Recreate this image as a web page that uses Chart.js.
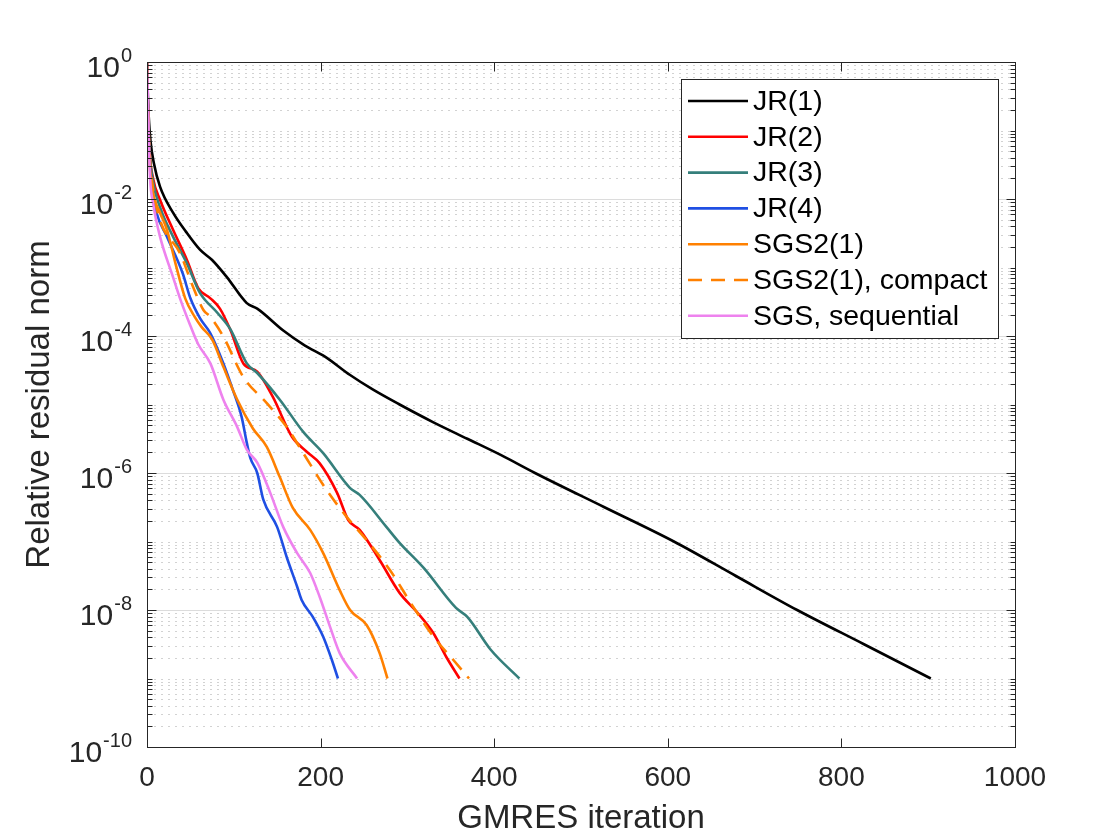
<!DOCTYPE html>
<html>
<head>
<meta charset="utf-8">
<script src="https://cdn.jsdelivr.net/npm/chart.js@4.4.1/dist/chart.umd.min.js"></script>
<style>
    body { margin: 0; background: #ffffff; }
    canvas { display: block; }
</style>
</head>
<body>
<canvas id="residualChart" width="1120" height="840"></canvas>
<script>
// iterations and log10(relative residual)
const jr1Iter = [0, 1, 2, 4, 8, 15, 30, 45, 61, 75, 92, 115, 127, 157, 182, 205, 234, 260, 291, 330, 369, 408, 447, 527, 607, 678, 749, 826, 903];
const jr1Log = [0, -0.5, -0.8, -1.15, -1.48, -1.82, -2.2, -2.48, -2.74, -2.89, -3.14, -3.52, -3.6, -3.92, -4.14, -4.3, -4.57, -4.78, -5.0, -5.26, -5.5, -5.74, -6.0, -6.5, -7.0, -7.5, -8.0, -8.5, -9.0];

const jr2Iter = [0, 1, 3, 7, 15, 30, 46, 59, 73, 84, 96, 111, 127, 145, 167, 184, 199, 219, 232, 245, 268, 291, 311, 330, 345, 360];
const jr2Log = [0, -0.6, -1.3, -1.7, -2.01, -2.45, -2.89, -3.3, -3.45, -3.6, -3.91, -4.4, -4.52, -4.89, -5.47, -5.69, -5.86, -6.29, -6.69, -6.83, -7.27, -7.75, -8.03, -8.34, -8.69, -9.0];

const jr3Iter = [0, 1, 3, 7, 15, 30, 46, 61, 81, 96, 115, 127, 153, 180, 203, 234, 245, 276, 291, 319, 356, 369, 396, 429];
const jr3Log = [0, -0.6, -1.3, -1.75, -2.12, -2.55, -2.94, -3.37, -3.66, -3.9, -4.4, -4.54, -4.93, -5.4, -5.71, -6.22, -6.32, -6.79, -7.02, -7.39, -7.97, -8.1, -8.58, -9.0];

const jr4Iter = [0, 1, 3, 6, 11, 23, 41, 50, 61, 73, 88, 99, 109, 115, 119, 127, 134, 150, 161, 173, 178, 191, 203, 213, 220];
const jr4Log = [0, -0.7, -1.4, -1.85, -2.2, -2.55, -3.08, -3.45, -3.74, -3.96, -4.4, -4.79, -5.18, -5.56, -5.78, -6.0, -6.39, -6.79, -7.23, -7.66, -7.85, -8.1, -8.39, -8.73, -9.0];

const sgs2Iter = [0, 1, 3, 7, 15, 23, 33, 44, 55, 63, 75, 88, 104, 122, 138, 153, 168, 188, 203, 222, 234, 253, 268, 277];
const sgs2Log = [0, -0.7, -1.45, -1.91, -2.2, -2.45, -2.95, -3.45, -3.72, -3.87, -4.05, -4.45, -4.93, -5.35, -5.62, -6.06, -6.51, -6.83, -7.17, -7.71, -8.0, -8.22, -8.63, -9.0];

const compactIter = [0, 1, 3, 7, 15, 38, 53, 65, 73, 88, 111, 138, 161, 180, 207, 230, 253, 280, 307, 330, 353, 371];
const compactLog = [0, -0.65, -1.35, -1.85, -2.31, -2.79, -3.28, -3.62, -3.72, -4.01, -4.6, -4.98, -5.33, -5.71, -6.25, -6.64, -6.98, -7.42, -7.96, -8.39, -8.73, -9.0];

const seqIter = [0, 1, 2, 3.5, 7, 15, 30, 38, 50, 59, 73, 88, 104, 115, 127, 142, 157, 173, 188, 199, 211, 222, 242];
const seqLog = [0, -0.5, -1.1, -1.68, -2.06, -2.55, -3.14, -3.45, -3.85, -4.12, -4.4, -4.93, -5.33, -5.66, -5.85, -6.29, -6.79, -7.17, -7.46, -7.81, -8.25, -8.63, -9.0];

const seriesNames = ["JR(1)", "JR(2)", "JR(3)", "JR(4)", "SGS2(1)", "SGS2(1), compact", "SGS, sequential"];
const seriesColors = ["#000000", "#ff0000", "#357f7b", "#1f4fe3", "#ff8000", "#ff8000", "#ee82ee"];
const seriesDash = [[], [], [], [], [], [14, 9], []];

const xTicks = [0, 200, 400, 600, 800, 1000];
const yExponents = [0, -2, -4, -6, -8, -10];

const FONT = "'Liberation Sans', Arial, Helvetica, sans-serif";
const INK = "#262626";

function toPoints(iters, logs) {
    return iters.map((it, i) => ({ x: it, y: Math.pow(10, logs[i]) }));
}

const allIters = [jr1Iter, jr2Iter, jr3Iter, jr4Iter, sgs2Iter, compactIter, seqIter];
const allLogs = [jr1Log, jr2Log, jr3Log, jr4Log, sgs2Log, compactLog, seqLog];

const datasets = seriesNames.map((name, i) => ({
    label: name,
    data: toPoints(allIters[i], allLogs[i]),
    borderColor: seriesColors[i],
    borderWidth: 2.6,
    borderDash: seriesDash[i],
    pointRadius: 0,
    fill: false,
    cubicInterpolationMode: "monotone",
    borderJoinStyle: "round",
    order: -i
}));

// grid, box, inward ticks, log labels and legend, matlab style
const matlabFrame = {
    id: "matlabFrame",
    beforeDatasetsDraw(chart) {
        const ctx = chart.ctx;
        const a = chart.chartArea;
        const y = chart.scales.y;
        ctx.save();
        ctx.lineWidth = 1;

        ctx.strokeStyle = "#d2d2d2";
        ctx.setLineDash([2, 5]);
        for (let k = -10; k < 0; k++) {
            for (let m = 1; m < 10; m++) {
                if (m === 1 && k % 2 === 0) continue;
                const py = Math.round(y.getPixelForValue(m * Math.pow(10, k))) + 0.5;
                ctx.beginPath();
                ctx.moveTo(a.left, py);
                ctx.lineTo(a.right, py);
                ctx.stroke();
            }
        }

        ctx.setLineDash([]);
        ctx.strokeStyle = "#dcdcdc";
        yExponents.forEach(e => {
            if (e === 0 || e === -10) return;
            const py = Math.round(y.getPixelForValue(Math.pow(10, e))) + 0.5;
            ctx.beginPath();
            ctx.moveTo(a.left, py);
            ctx.lineTo(a.right, py);
            ctx.stroke();
        });
        ctx.restore();
    },
    afterDatasetsDraw(chart) {
        const ctx = chart.ctx;
        const a = chart.chartArea;
        const x = chart.scales.x;
        const y = chart.scales.y;
        ctx.save();
        ctx.strokeStyle = INK;
        ctx.lineWidth = 1;
        ctx.setLineDash([]);

        const L = Math.round(a.left) + 0.5;
        const R = Math.round(a.right) + 0.5;
        const T = Math.round(a.top) + 0.5;
        const B = Math.round(a.bottom) + 0.5;
        ctx.strokeRect(L, T, R - L, B - T);

        ctx.beginPath();
        xTicks.forEach(v => {
            const px = Math.round(x.getPixelForValue(v)) + 0.5;
            ctx.moveTo(px, B); ctx.lineTo(px, B - 9);
            ctx.moveTo(px, T); ctx.lineTo(px, T + 9);
        });
        for (let k = -10; k <= 0; k++) {
            for (let m = 1; m < 10; m++) {
                if (k === 0 && m > 1) break;
                const py = Math.round(y.getPixelForValue(m * Math.pow(10, k))) + 0.5;
                const len = (m === 1 && k % 2 === 0) ? 9 : 5;
                ctx.moveTo(L, py); ctx.lineTo(L + len, py);
                ctx.moveTo(R, py); ctx.lineTo(R - len, py);
            }
        }
        ctx.stroke();

        // 10^k labels
        ctx.fillStyle = INK;
        ctx.textAlign = "right";
        ctx.textBaseline = "middle";
        yExponents.forEach(e => {
            const py = y.getPixelForValue(Math.pow(10, e));
            const sup = String(e);
            ctx.font = "20px " + FONT;
            const supW = ctx.measureText(sup).width;
            ctx.fillText(sup, 132, py - 6);
            ctx.font = "30px " + FONT;
            ctx.fillText("10", 132 - supW - 1, py + 7);
        });

        // legend
        const lx = 681.5, ly = 79.5, lw = 317, lh = 259;
        ctx.fillStyle = "#ffffff";
        ctx.fillRect(lx, ly, lw, lh);
        ctx.strokeStyle = INK;
        ctx.strokeRect(lx, ly, lw, lh);
        ctx.font = "28.5px " + FONT;
        ctx.textAlign = "left";
        ctx.textBaseline = "middle";
        seriesNames.forEach((name, i) => {
            const cy = 101 + i * 35.8;
            ctx.strokeStyle = seriesColors[i];
            ctx.lineWidth = 2.6;
            ctx.setLineDash(seriesDash[i]);
            ctx.beginPath();
            ctx.moveTo(688, cy);
            ctx.lineTo(748, cy);
            ctx.stroke();
            ctx.setLineDash([]);
            ctx.fillStyle = "#000000";
            ctx.fillText(name, 753, cy + 1);
        });
        ctx.restore();
    }
};

new Chart(document.getElementById("residualChart"), {
    type: "line",
    data: { datasets: datasets },
    options: {
        responsive: false,
        animation: false,
        devicePixelRatio: 1,
        layout: { padding: { left: 0, right: 105, top: 62, bottom: 0 } },
        plugins: {
            legend: { display: false },
            tooltip: { enabled: false }
        },
        scales: {
            x: {
                type: "linear",
                min: 0,
                max: 1000,
                afterBuildTicks: scale => {
                    scale.ticks = xTicks.map(v => ({ value: v }));
                },
                afterFit: scale => { scale.height = 93; },
                grid: { display: false, drawTicks: false },
                border: { display: false },
                ticks: {
                    color: INK,
                    font: { family: FONT, size: 28 },
                    padding: 14,
                    maxRotation: 0,
                    callback: v => String(v)
                },
                title: {
                    display: true,
                    text: "GMRES iteration",
                    color: INK,
                    font: { family: FONT, size: 33 },
                    padding: { top: 0, bottom: 1 }
                }
            },
            y: {
                type: "logarithmic",
                min: 1e-10,
                max: 1,
                afterFit: scale => { scale.width = 147; },
                grid: { display: false, drawTicks: false },
                border: { display: false },
                ticks: { display: false },
                title: {
                    display: true,
                    text: "Relative residual norm",
                    color: INK,
                    font: { family: FONT, size: 33 },
                    padding: { top: 20, bottom: 0 }
                }
            }
        }
    },
    plugins: [matlabFrame]
});
</script>
</body>
</html>
